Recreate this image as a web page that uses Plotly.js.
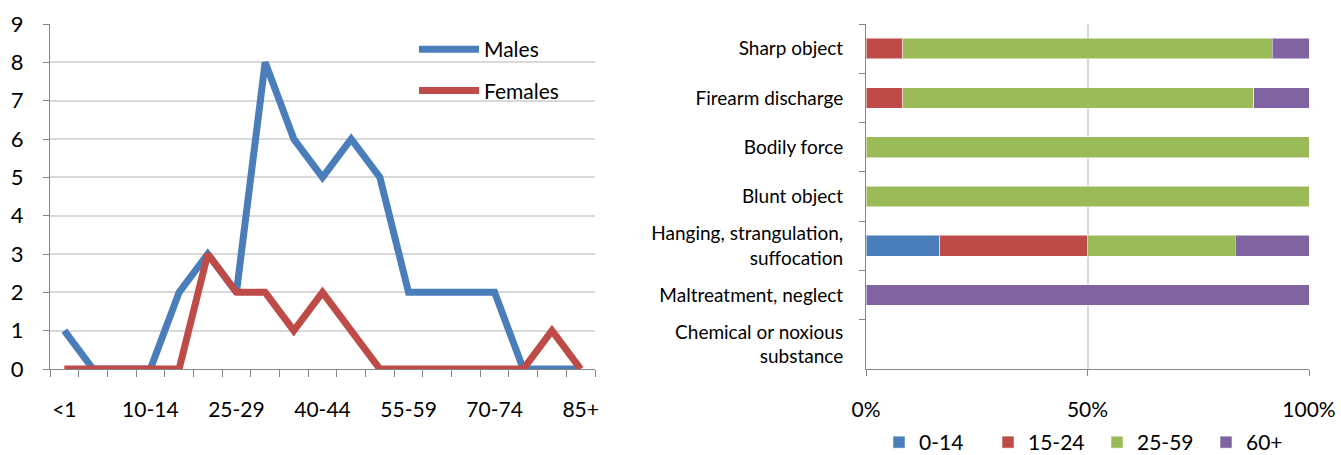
<!DOCTYPE html>
<html>
<head>
<meta charset="utf-8">
<script src="https://cdn.plot.ly/plotly-3.0.1.min.js"></script>
<style>html,body{margin:0;padding:0;background:#fff;overflow:hidden}#chart{width:1341px;height:463px}</style>
</head>
<body>
<div id="chart"></div>
<script>
// Left chart: age groups
var ageGroups = ['<1','1-4','5-9','10-14','15-19','20-24','25-29','30-34','35-39','40-44','45-49','50-54','55-59','60-64','65-69','70-74','75-79','80-84','85+'];
var ageTickLabels = ['<1','','','10-14','','','25-29','','','40-44','','','55-59','','','70-74','','','85+'];
var males   = [1,0,0,0,2,3,2,8,6,5,6,5,2,2,2,2,0,0,0];
var females = [0,0,0,0,0,3,2,2,1,2,1,0,0,0,0,0,0,1,0];

// Right chart: mechanism by age band (percent)
var mechanisms = ['Sharp object','Firearm discharge','Bodily force','Blunt object','Hanging, strangulation,<br>suffocation','Maltreatment, neglect','Chemical or noxious<br>substance'];
var ageBands = ['0-14','15-24','25-59','60+'];
var band0_14  = [0, 0, 0, 0, 16.7, 0, 0];
var band15_24 = [8.3, 8.3, 0, 0, 33.3, 0, 0];
var band25_59 = [83.4, 79.2, 100, 100, 33.3, 0, 0];
var band60p   = [8.3, 12.5, 0, 0, 16.7, 100, 0];
var pctTickVals = [0, 50, 100];
var pctTickLabels = ['0%', '50%', '100%'];
var bandSeries = [band0_14, band15_24, band25_59, band60p];
var bandColors = ['#4A7EBB','#BE4B48','#9BBB59','#8064A2'];

var FONT = 'Lato, "Open Sans", sans-serif';
var H = 463; // slightly taller than the window so the bottom legend sits as in the original
var traces = [
  {x: ageGroups, y: males, name: 'Males', type: 'scatter', mode: 'lines',
   line: {color: '#4A7EBB', width: 7}, xaxis: 'x', yaxis: 'y', legend: 'legend', legendgroup: 'm'},
  {x: ageGroups, y: females, name: 'Females', type: 'scatter', mode: 'lines',
   line: {color: '#BE4B48', width: 7}, xaxis: 'x', yaxis: 'y', legend: 'legend', legendgroup: 'f'}
];
for (var i = 0; i < ageBands.length; i++) {
  traces.push({
    y: mechanisms, x: bandSeries[i], name: ageBands[i], type: 'bar', orientation: 'h',
    marker: {color: bandColors[i], line: {color: 'rgba(255,255,255,0.5)', width: 1}},
    xaxis: 'x2', yaxis: 'y2', legend: 'legend2', hoverinfo: 'x+y+name'
  });
}

var layout = {
  width: 1341, height: H,
  margin: {l: 0, r: 0, t: 0, b: 0},
  paper_bgcolor: '#fff', plot_bgcolor: '#fff',
  font: {family: FONT, size: 21, color: '#000'},
  barmode: 'stack', bargap: 0.58,
  showlegend: true,
  xaxis: {
    domain: [50/1341, 595/1341], type: 'category', range: [-0.5, 18.5],
    tickmode: 'array', tickvals: ageGroups, ticktext: ageTickLabels, tickson: 'boundaries',
    tickangle: 0,
    ticks: 'outside', ticklen: 7, tickcolor: '#868686', showgrid: false,
    showline: true, linecolor: '#868686', linewidth: 1, zeroline: false,
    tickfont: {size: 21}, ticklabelstandoff: 22, fixedrange: true
  },
  yaxis: {
    domain: [1-369/H, 1-24/H], range: [0, 9], dtick: 1,
    ticks: 'outside', ticklen: 6, tickcolor: '#868686',
    showline: true, linecolor: '#868686', linewidth: 1,
    showgrid: true, gridcolor: '#D9D9D9', gridwidth: 2, zeroline: false,
    tickfont: {size: 22}, ticklabelstandoff: 15, fixedrange: true
  },
  xaxis2: {
    domain: [866/1341, 1309/1341], range: [0, 100], tickmode: 'array',
    tickvals: pctTickVals, ticktext: pctTickLabels, tickangle: 0,
    ticks: 'outside', ticklen: 6, tickcolor: '#868686',
    showline: true, linecolor: '#868686', linewidth: 1,
    showgrid: true, gridcolor: '#D9D9D9', gridwidth: 2, zeroline: false,
    tickfont: {size: 21}, ticklabelstandoff: 16, anchor: 'y2', fixedrange: true
  },
  yaxis2: {
    domain: [1-369/H, 1-24/H], type: 'category', autorange: 'reversed',
    tickson: 'boundaries', ticks: 'outside', ticklen: 6, tickcolor: '#868686',
    showline: true, linecolor: '#868686', linewidth: 1, showgrid: false,
    tickfont: {size: 19}, ticklabelstandoff: 18, anchor: 'x2', fixedrange: true
  },
  legend: {
    x: 414/1341, xanchor: 'left', y: 1-29/H, yanchor: 'top',
    orientation: 'v', bgcolor: 'rgba(0,0,0,0)', tracegroupgap: 11,
    font: {size: 21}, itemwidth: 60
  },
  legend2: {
    x: 879/1341, xanchor: 'left', y: 0, yanchor: 'bottom',
    orientation: 'h', bgcolor: 'rgba(0,0,0,0)', font: {size: 21}, traceorder: 'normal',
    entrywidth: 64, entrywidthmode: 'pixels'
  }
};

Plotly.newPlot('chart', traces, layout, {displayModeBar: false, staticPlot: true});
</script>
</body>
</html>
